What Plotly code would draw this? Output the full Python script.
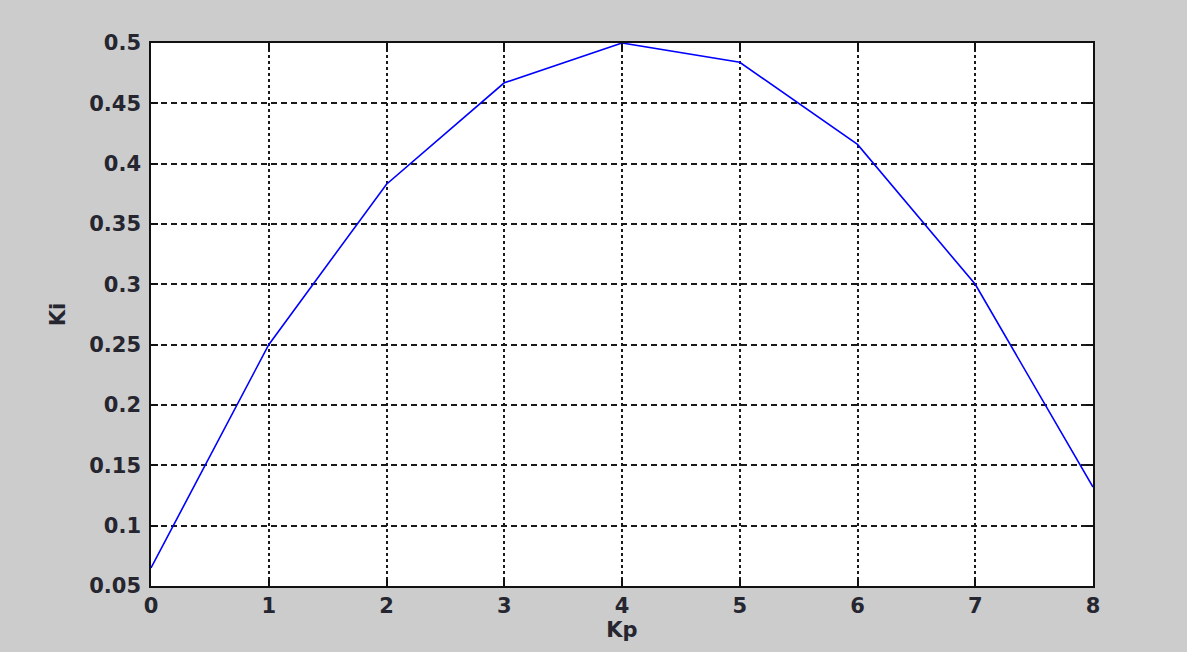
import plotly.graph_objects as go

kp = [0, 1, 2, 3, 4, 5, 6, 7, 8]
ki = [0.065, 0.25, 0.383, 0.467, 0.5, 0.484, 0.416, 0.30, 0.132]

x_ticks = [0, 1, 2, 3, 4, 5, 6, 7, 8]
y_ticks = [0.05, 0.1, 0.15, 0.2, 0.25, 0.3, 0.35, 0.4, 0.45, 0.5]
y_tick_text = ["0.05", "0.1", "0.15", "0.2", "0.25", "0.3", "0.35", "0.4", "0.45", "0.5"]

font = dict(family="DejaVu Sans", size=21, color="#262630", weight="bold")

fig = go.Figure()
fig.add_trace(go.Scatter(x=kp, y=ki, mode="lines",
                         line=dict(color="#0000ff", width=1.6),
                         showlegend=False))

fig.update_layout(
    width=1187, height=652,
    paper_bgcolor="#cccccc", plot_bgcolor="#ffffff",
    margin=dict(l=151, r=94, t=43, b=66),
    font=font,
)
fig.update_xaxes(
    range=[0, 8], tickvals=x_ticks, ticks="inside", ticklen=7, tickwidth=1.5,
    tickcolor="#111", showline=True, linecolor="#111", linewidth=1.5, mirror="ticks",
    showgrid=True, gridcolor="#1a1a1a", gridwidth=1.6, griddash="3px,3px",
    zeroline=False, title=dict(text="Kp", font=font, standoff=2),
    tickfont=font,
)
fig.update_yaxes(
    range=[0.05, 0.5], tickvals=y_ticks, ticktext=y_tick_text, ticks="inside",
    ticklen=7, tickwidth=1.5, tickcolor="#111", showline=True, linecolor="#111",
    linewidth=1.5, mirror="ticks", ticklabelstandoff=4,
    showgrid=True, gridcolor="#1a1a1a", gridwidth=1.6, griddash="6px,4px",
    zeroline=False, title=dict(text="Ki", font=font, standoff=18),
    tickfont=font,
)

fig.write_html("out.html", config={"displayModeBar": False},
               post_script="document.body.style.margin='0';document.body.style.padding='0';")
